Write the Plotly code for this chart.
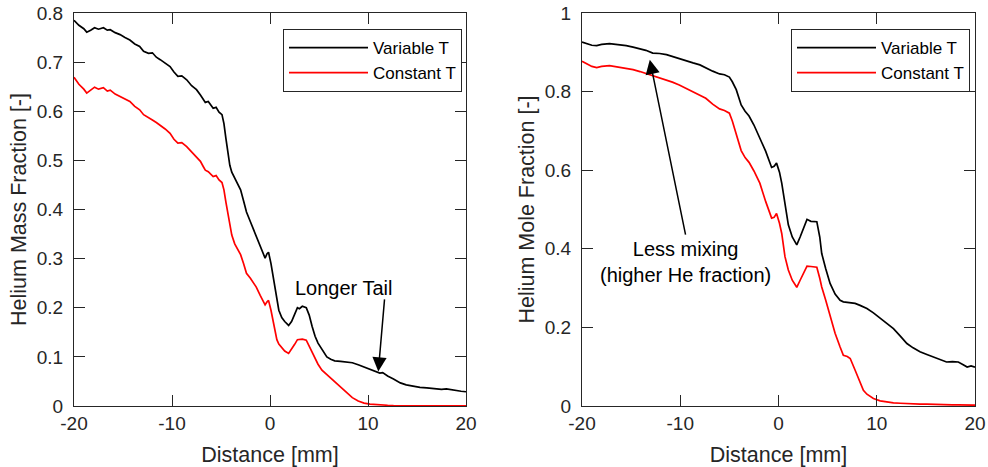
import plotly.graph_objects as go

# ---------------- data ----------------
x_left = [-20, -19.5, -19, -18.7, -18.3, -17.9, -17.5, -17.0, -16.6, -16.3, -15.8, -15.3, -14.8, -14.3,
          -13.8, -13.3, -12.9, -12.4, -12.0, -11.6, -11.2, -10.7, -10.2, -9.8, -9.4, -9.0, -8.5, -8.0,
          -7.5, -7.1, -6.8, -6.6, -6.3, -6.0, -5.8, -5.5, -5.2, -4.9, -4.7, -4.5, -4.3, -4.1, -3.9,
          -3.6, -3.3, -3.0, -2.7, -2.4, -2.0, -1.7, -1.4, -1.0, -0.7, -0.5, -0.3, -0.15, 0.1, 0.3,
          0.5, 0.7, 0.9, 1.2, 1.5, 1.9, 2.2, 2.5, 2.8, 3.0, 3.3, 3.7, 4.0, 4.3, 4.6, 4.9, 5.3, 5.8,
          6.2, 6.6, 7.2, 7.8, 8.4, 9.0, 9.6, 10.2, 10.7, 11.2, 11.5, 12.0, 12.6, 13.3, 13.9, 14.6,
          15.3, 16.0, 16.8, 17.5, 18.0, 18.5, 19.0, 19.5, 20.0]

mass_variable_T = [0.785, 0.775, 0.768, 0.761, 0.765, 0.770, 0.767, 0.770, 0.765, 0.766, 0.760, 0.756,
                   0.750, 0.745, 0.737, 0.732, 0.722, 0.718, 0.719, 0.710, 0.705, 0.698, 0.691, 0.680,
                   0.671, 0.672, 0.664, 0.652, 0.644, 0.633, 0.625, 0.618, 0.620, 0.610, 0.606, 0.608,
                   0.598, 0.593, 0.575, 0.545, 0.515, 0.490, 0.476, 0.465, 0.452, 0.440, 0.418, 0.395,
                   0.375, 0.360, 0.345, 0.325, 0.310, 0.301, 0.310, 0.313, 0.290, 0.265, 0.243, 0.215,
                   0.195, 0.180, 0.172, 0.164, 0.172, 0.186, 0.200, 0.198, 0.203, 0.200, 0.185, 0.162,
                   0.142, 0.128, 0.116, 0.100, 0.095, 0.092, 0.091, 0.090, 0.088, 0.084, 0.079, 0.075,
                   0.071, 0.067, 0.068, 0.061, 0.055, 0.047, 0.043, 0.040, 0.038, 0.037, 0.035, 0.034,
                   0.035, 0.033, 0.031, 0.030, 0.029]

mass_constant_T = [0.669, 0.655, 0.645, 0.637, 0.643, 0.649, 0.645, 0.648, 0.641, 0.643, 0.635, 0.630,
                   0.626, 0.620, 0.610, 0.603, 0.593, 0.586, 0.582, 0.577, 0.572, 0.564, 0.555, 0.543,
                   0.535, 0.536, 0.528, 0.517, 0.508, 0.498, 0.487, 0.480, 0.477, 0.470, 0.467, 0.469,
                   0.460, 0.455, 0.440, 0.415, 0.395, 0.370, 0.348, 0.330, 0.318, 0.308, 0.290, 0.270,
                   0.260, 0.250, 0.242, 0.225, 0.212, 0.206, 0.212, 0.215, 0.195, 0.175, 0.155, 0.135,
                   0.126, 0.118, 0.112, 0.107, 0.115, 0.125, 0.135, 0.136, 0.136, 0.134, 0.122, 0.110,
                   0.095, 0.085, 0.073, 0.064, 0.057, 0.051, 0.040, 0.028, 0.017, 0.010, 0.006, 0.004,
                   0.003, 0.002, 0.002, 0.0015, 0.001, 0.001, 0.0008, 0.0006, 0.0005, 0.0004, 0.0003,
                   0.0003, 0.0002, 0.0002, 0.0001, 0.0001, 0.0001]

x_right = [-20, -19.5, -19, -18.5, -18, -17.2, -16.5, -15.5, -14.8, -14.1, -13.5, -12.8, -12.1, -11.4,
           -10.8, -10.1, -9.4, -8.7, -8.0, -7.4, -6.7, -6.0, -5.5, -5.0, -4.7, -4.3, -3.8, -3.4, -3.0,
           -2.5, -1.9, -1.3, -0.7, -0.45, -0.2, 0.1, 0.33, 0.66, 1.0, 1.4, 1.86, 2.2, 2.6, 2.9, 3.3,
           3.9, 4.2, 4.4, 4.8, 5.25, 5.76, 6.27, 6.6, 7.0, 7.3, 7.8, 8.3, 8.64, 9.0, 9.66, 10.35, 11.0,
           11.7, 12.4, 13.07, 13.7, 14.4, 15.1, 15.8, 16.5, 17.1, 17.7, 18.3, 18.8, 19.2, 19.6, 20]

mole_variable_T = [0.926, 0.922, 0.918, 0.917, 0.920, 0.922, 0.920, 0.917, 0.913, 0.909, 0.905, 0.898,
                   0.897, 0.894, 0.889, 0.885, 0.879, 0.873, 0.868, 0.860, 0.852, 0.845, 0.843, 0.837,
                   0.825, 0.805, 0.766, 0.750, 0.738, 0.715, 0.680, 0.648, 0.607, 0.610, 0.618, 0.595,
                   0.567, 0.516, 0.461, 0.430, 0.410, 0.430, 0.455, 0.475, 0.470, 0.469, 0.430, 0.388,
                   0.350, 0.312, 0.285, 0.269, 0.265, 0.264, 0.263, 0.261, 0.256, 0.252, 0.248, 0.237,
                   0.223, 0.210, 0.197, 0.178, 0.159, 0.148, 0.138, 0.131, 0.125, 0.118, 0.112, 0.113,
                   0.112, 0.105, 0.099, 0.102, 0.099]

mole_constant_T = [0.877, 0.870, 0.864, 0.861, 0.864, 0.866, 0.863, 0.860, 0.856, 0.851, 0.846, 0.840,
                   0.836, 0.830, 0.824, 0.817, 0.808, 0.800, 0.792, 0.783, 0.768, 0.756, 0.752, 0.745,
                   0.725, 0.690, 0.650, 0.632, 0.620, 0.598, 0.567, 0.520, 0.478, 0.480, 0.490, 0.465,
                   0.439, 0.380, 0.346, 0.320, 0.302, 0.320, 0.340, 0.356, 0.355, 0.353, 0.325, 0.303,
                   0.270, 0.230, 0.185, 0.150, 0.129, 0.126, 0.121, 0.091, 0.060, 0.040, 0.030, 0.019,
                   0.013, 0.010, 0.008, 0.007, 0.006, 0.006, 0.005, 0.005, 0.004, 0.004, 0.004, 0.003,
                   0.003, 0.003, 0.002, 0.002, 0.002]

series_names = ["Variable T", "Constant T"]
x_ticks = [-20, -10, 0, 10, 20]
x_tick_text = ["-20", "-10", "0", "10", "20"]
y_ticks_left = [0, 0.1, 0.2, 0.3, 0.4, 0.5, 0.6, 0.7, 0.8]
y_tick_text_left = ["0", "0.1", "0.2", "0.3", "0.4", "0.5", "0.6", "0.7", "0.8"]
y_ticks_right = [0, 0.2, 0.4, 0.6, 0.8, 1]
y_tick_text_right = ["0", "0.2", "0.4", "0.6", "0.8", "1"]

# ---------------- figure ----------------
FONT = "Liberation Sans, Arial, Helvetica, sans-serif"
AX = "#262626"
W, H = 988, 467
# plot-area edges in page pixels: x 74..975, y 13..406
ML, MR, MT, MB = 74, 988 - 975, 13, 467 - 406
pw = W - ML - MR
ph = H - MT - MB

def px_x(px):
    return (px - ML) / pw

def px_y(py):
    return 1 - (py - MT) / ph

fig = go.Figure()

fig.add_trace(go.Scatter(x=x_left, y=mass_variable_T, mode="lines", name=series_names[0],
                         line=dict(color="black", width=1.7), xaxis="x", yaxis="y", legend="legend"))
fig.add_trace(go.Scatter(x=x_left, y=mass_constant_T, mode="lines", name=series_names[1],
                         line=dict(color="#ff0000", width=1.7), xaxis="x", yaxis="y", legend="legend"))
fig.add_trace(go.Scatter(x=x_right, y=mole_variable_T, mode="lines", name=series_names[0],
                         line=dict(color="black", width=1.7), xaxis="x2", yaxis="y2", legend="legend2"))
fig.add_trace(go.Scatter(x=x_right, y=mole_constant_T, mode="lines", name=series_names[1],
                         line=dict(color="#ff0000", width=1.7), xaxis="x2", yaxis="y2", legend="legend2"))

axis_common = dict(showline=True, linecolor=AX, linewidth=1.3, mirror="allticks",
                   ticks="inside", ticklen=11, tickwidth=1.3, tickcolor=AX,
                   showgrid=False, zeroline=False, automargin=False,
                   ticklabeloverflow="allow",
                   tickfont=dict(family=FONT, size=19, color=AX))
TITLE_FONT = dict(family=FONT, size=21.5, color=AX)

fig.update_layout(
    width=W, height=H,
    margin=dict(l=ML, r=MR, t=MT, b=MB),
    paper_bgcolor="white", plot_bgcolor="white",
    font=dict(family=FONT, size=19, color=AX),
    xaxis=dict(domain=[0, px_x(466)], range=[-20, 20], tickvals=x_ticks, ticktext=x_tick_text,
               anchor="y", title=dict(text="Distance [mm]", font=TITLE_FONT, standoff=14),
               ticklabelstandoff=0, **axis_common),
    yaxis=dict(domain=[0, 1], range=[0, 0.8], tickvals=y_ticks_left, ticktext=y_tick_text_left,
               anchor="x", title=dict(text="Helium Mass Fraction [-]", font=TITLE_FONT, standoff=4),
               ticklabelstandoff=6, **axis_common),
    xaxis2=dict(domain=[px_x(582), 1], range=[-20, 20], tickvals=x_ticks, ticktext=x_tick_text,
                anchor="y2", title=dict(text="Distance [mm]", font=TITLE_FONT, standoff=14),
                ticklabelstandoff=0, **axis_common),
    yaxis2=dict(domain=[0, 1], range=[0, 1], tickvals=y_ticks_right, ticktext=y_tick_text_right,
                anchor="x2", title=dict(text="Helium Mole Fraction [-]", font=TITLE_FONT, standoff=4),
                ticklabelstandoff=6, **axis_common),
    legend=dict(x=px_x(462), y=px_y(29), xanchor="right", yanchor="top",
                bgcolor="white", bordercolor=AX, borderwidth=1, itemwidth=79,
                font=dict(family=FONT, size=17, color="black"), tracegroupgap=0),
    legend2=dict(x=px_x(970), y=px_y(29), xanchor="right", yanchor="top",
                 bgcolor="white", bordercolor=AX, borderwidth=1, itemwidth=79,
                 font=dict(family=FONT, size=17, color="black"), tracegroupgap=0),
    showlegend=True,
)

# annotations
ANN_FONT = dict(family=FONT, size=20, color="black")
fig.add_annotation(x=7.45, y=0.24, xref="x", yref="y", text="Longer Tail", showarrow=False,
                   font=ANN_FONT)
fig.add_annotation(x=11.05, y=0.07, ax=11.7, ay=0.22, xref="x", yref="y", axref="x", ayref="y",
                   text="", showarrow=True, arrowhead=2, arrowsize=1.9, arrowwidth=1.5,
                   arrowcolor="black", standoff=0)
fig.add_annotation(x=-9.43, y=0.366, xref="x2", yref="y2", text="Less mixing<br>(higher He fraction)",
                   showarrow=False, font=ANN_FONT)
fig.add_annotation(x=-13.1, y=0.881, ax=-9.43, ay=0.432, xref="x2", yref="y2", axref="x2", ayref="y2",
                   text="", showarrow=True, arrowhead=2, arrowsize=1.9, arrowwidth=1.5,
                   arrowcolor="black", standoff=0)

# remove the browser's default 8px page margin so the figure fills the window exactly
fig.write_html("out.html", config={"displayModeBar": False},
               post_script="document.body.style.margin='0px';")
